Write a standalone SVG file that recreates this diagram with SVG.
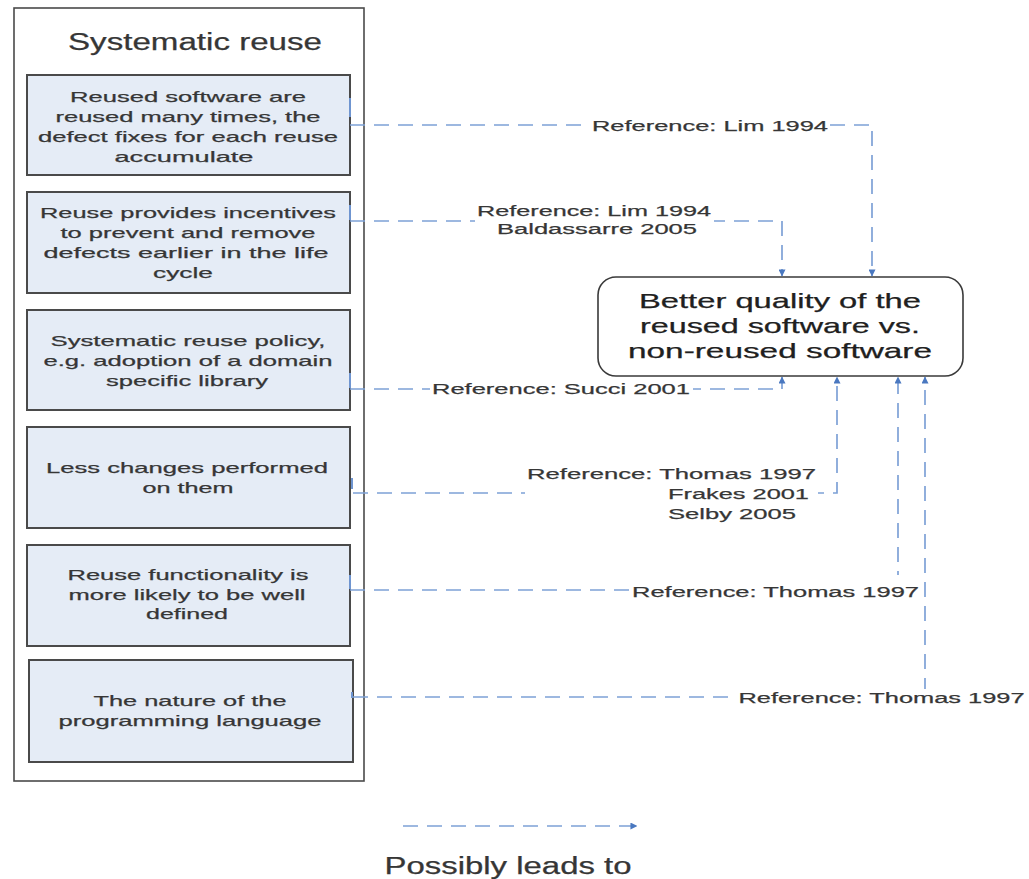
<svg xmlns="http://www.w3.org/2000/svg" width="1029" height="879" viewBox="0 0 1029 879">
  <style>
    .txt { font-family: "Liberation Sans", Arial, sans-serif; fill: #363636; stroke: #363636; stroke-width: 0.25; text-anchor: middle; }
    .title { font-size: 23px; }
    .item { font-size: 15px; }
    .lbl { font-size: 15.5px; }
    .main { font-size: 21px; fill: #202020; stroke: #202020; }
    .box { fill: #e5ecf6; stroke: #4a4a4a; stroke-width: 2; }
    .flow { fill: none; stroke: #7ea1d6; stroke-width: 1.7; stroke-dasharray: 15 9; }
    .stub { stroke: #6f95d0; stroke-width: 2; }
    .mask { fill: #ffffff; }
  </style>
  <defs>
    <marker id="tip" viewBox="0 0 8 8" refX="7.5" refY="4" markerWidth="7" markerHeight="7" markerUnits="userSpaceOnUse" orient="auto">
      <path d="M0 0 L8 4 L0 8 z" fill="#4a78c0"/>
    </marker>
  </defs>

  <rect width="1029" height="879" fill="#ffffff"/>

  <!-- container of the causes -->
  <g id="systematic-reuse">
    <rect x="14" y="8" width="350" height="773" fill="#ffffff" stroke="#4a4a4a" stroke-width="1.6"/>
    <text class="txt title" x="195" y="50" textLength="254" lengthAdjust="spacingAndGlyphs">Systematic reuse</text>
  </g>

  <g id="cause-defect-fixes">
    <rect class="box" x="27" y="75" width="323" height="100"/>
    <text class="txt item" x="188" y="102" textLength="236" lengthAdjust="spacingAndGlyphs">Reused software are</text>
    <text class="txt item" x="188" y="122" textLength="265" lengthAdjust="spacingAndGlyphs">reused many times, the</text>
    <text class="txt item" x="188" y="142" textLength="300" lengthAdjust="spacingAndGlyphs">defect fixes for each reuse</text>
    <text class="txt item" x="184" y="162" textLength="139" lengthAdjust="spacingAndGlyphs">accumulate</text>
  </g>

  <g id="cause-incentives">
    <rect class="box" x="27" y="192" width="323" height="101"/>
    <text class="txt item" x="188" y="218" textLength="296" lengthAdjust="spacingAndGlyphs">Reuse provides incentives</text>
    <text class="txt item" x="188" y="238" textLength="255" lengthAdjust="spacingAndGlyphs">to prevent and remove</text>
    <text class="txt item" x="186" y="258" textLength="285" lengthAdjust="spacingAndGlyphs">defects earlier in the life</text>
    <text class="txt item" x="183" y="278" textLength="60" lengthAdjust="spacingAndGlyphs">cycle</text>
  </g>

  <g id="cause-policy">
    <rect class="box" x="27" y="310" width="323" height="100"/>
    <text class="txt item" x="188" y="346" textLength="275" lengthAdjust="spacingAndGlyphs">Systematic reuse policy,</text>
    <text class="txt item" x="188" y="366" textLength="289" lengthAdjust="spacingAndGlyphs">e.g. adoption of a domain</text>
    <text class="txt item" x="187" y="386" textLength="162" lengthAdjust="spacingAndGlyphs">specific library</text>
  </g>

  <g id="cause-less-changes">
    <rect class="box" x="27" y="427" width="323" height="101"/>
    <text class="txt item" x="187" y="473" textLength="282" lengthAdjust="spacingAndGlyphs">Less changes performed</text>
    <text class="txt item" x="188" y="493" textLength="91" lengthAdjust="spacingAndGlyphs">on them</text>
  </g>

  <g id="cause-functionality">
    <rect class="box" x="27" y="545" width="323" height="101"/>
    <text class="txt item" x="188" y="580" textLength="241" lengthAdjust="spacingAndGlyphs">Reuse functionality is</text>
    <text class="txt item" x="187" y="600" textLength="237" lengthAdjust="spacingAndGlyphs">more likely to be well</text>
    <text class="txt item" x="187" y="619" textLength="82" lengthAdjust="spacingAndGlyphs">defined</text>
  </g>

  <g id="cause-language">
    <rect class="box" x="29" y="660" width="324" height="102" stroke="#6a6a6a" stroke-width="2.6"/>
    <text class="txt item" x="190" y="706" textLength="193" lengthAdjust="spacingAndGlyphs">The nature of the</text>
    <text class="txt item" x="190" y="726" textLength="263" lengthAdjust="spacingAndGlyphs">programming language</text>
  </g>

  <!-- effect -->
  <g id="better-quality">
    <rect x="598" y="277" width="365" height="99" rx="18" ry="18" fill="#ffffff" stroke="#3a3a3a" stroke-width="1.6"/>
    <text class="txt main" x="780" y="308" textLength="282" lengthAdjust="spacingAndGlyphs">Better quality of the</text>
    <text class="txt main" x="780" y="333" textLength="280" lengthAdjust="spacingAndGlyphs">reused software vs.</text>
    <text class="txt main" x="780" y="358" textLength="304" lengthAdjust="spacingAndGlyphs">non-reused software</text>
  </g>

  <!-- connectors with their reference labels -->
  <g id="connectors">
    <line class="stub" x1="350" y1="98" x2="350" y2="117"/>
    <line class="stub" x1="350" y1="205" x2="350" y2="220"/>
    <line class="stub" x1="350" y1="373" x2="350" y2="388"/>
    <line class="stub" x1="352" y1="478" x2="352" y2="489"/>
    <line class="stub" x1="350" y1="575" x2="350" y2="589"/>
    <line class="stub" x1="352" y1="692" x2="352" y2="698"/>

    <path class="flow" d="M350 125 H872 V276" marker-end="url(#tip)"/>
    <path class="flow" d="M350 221 H782 V276" marker-end="url(#tip)"/>
    <path class="flow" d="M350 389 H782 V377" marker-end="url(#tip)"/>
    <path class="flow" d="M353 493 H837 V377" marker-end="url(#tip)"/>
    <path class="flow" d="M350 590 H898 V377" marker-end="url(#tip)"/>
    <path class="flow" d="M353 697 H925 V377" marker-end="url(#tip)"/>

    <rect class="mask" x="590" y="116" width="240" height="18"/>
    <text class="txt lbl" x="710" y="131" textLength="236" lengthAdjust="spacingAndGlyphs">Reference: Lim 1994</text>

    <rect class="mask" x="475" y="201" width="239" height="38"/>
    <text class="txt lbl" x="594" y="216" textLength="234" lengthAdjust="spacingAndGlyphs">Reference: Lim 1994</text>
    <text class="txt lbl" x="597" y="234" textLength="200" lengthAdjust="spacingAndGlyphs">Baldassarre 2005</text>

    <rect class="mask" x="430" y="380" width="263" height="18"/>
    <text class="txt lbl" x="561" y="394" textLength="258" lengthAdjust="spacingAndGlyphs">Reference: Succi 2001</text>

    <rect class="mask" x="525" y="464" width="293" height="59"/>
    <text class="txt lbl" x="671.5" y="479" textLength="289" lengthAdjust="spacingAndGlyphs">Reference: Thomas 1997</text>
    <text class="txt lbl" x="738.5" y="499" textLength="141" lengthAdjust="spacingAndGlyphs">Frakes 2001</text>
    <text class="txt lbl" x="732" y="519" textLength="128" lengthAdjust="spacingAndGlyphs">Selby 2005</text>

    <rect class="mask" x="631" y="575" width="290" height="24"/>
    <text class="txt lbl" x="775.5" y="597" textLength="287" lengthAdjust="spacingAndGlyphs">Reference: Thomas 1997</text>

    <rect class="mask" x="737" y="689" width="292" height="17"/>
    <text class="txt lbl" x="881.5" y="703" textLength="286" lengthAdjust="spacingAndGlyphs">Reference: Thomas 1997</text>
  </g>

  <!-- legend -->
  <g id="legend">
    <path class="flow" d="M403 826 H637" marker-end="url(#tip)"/>
    <text class="txt title" x="508" y="874" textLength="247" lengthAdjust="spacingAndGlyphs" fill="#202020">Possibly leads to</text>
  </g>
</svg>
